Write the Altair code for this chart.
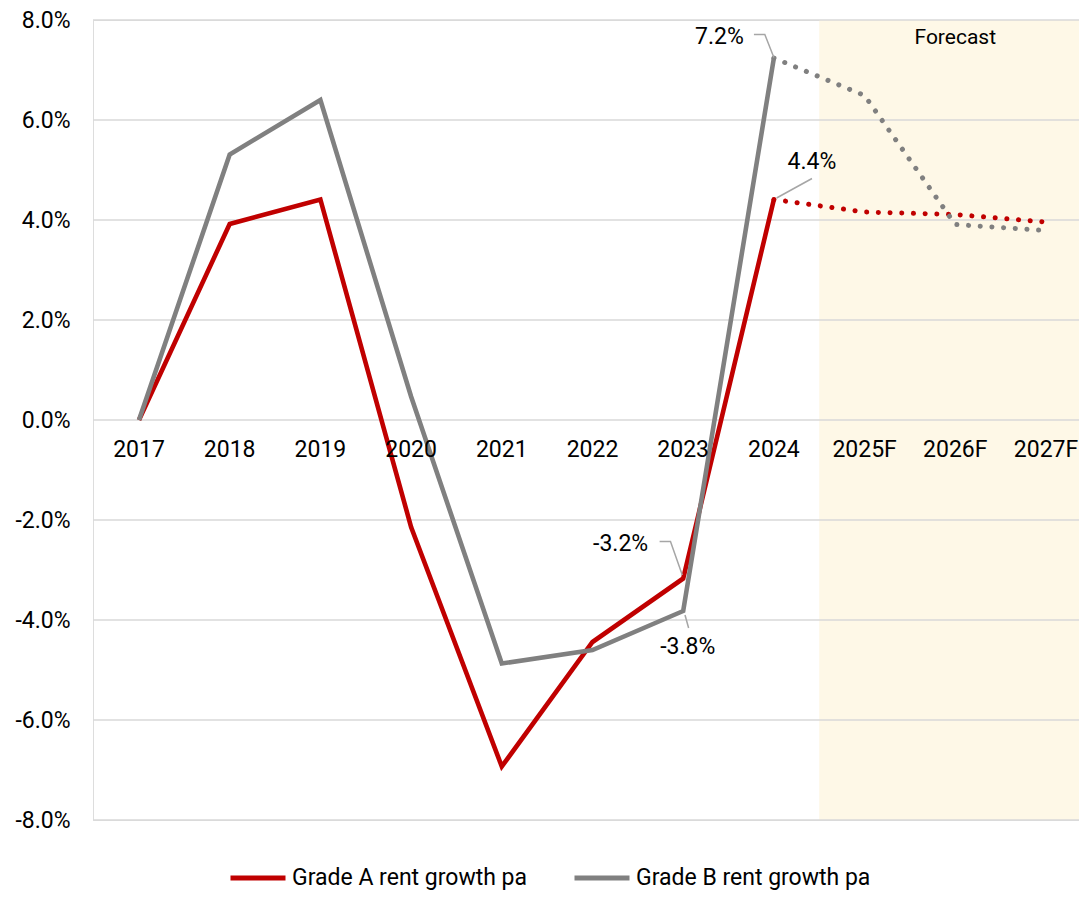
import altair as alt
import pandas as pd

# ---------------- data ----------------
years = ["2017", "2018", "2019", "2020", "2021", "2022", "2023", "2024",
         "2025F", "2026F", "2027F"]
series_names = ["Grade A rent growth pa", "Grade B rent growth pa"]
series_colors = ["#C00000", "#808080"]

# actual values 2017..2024 (%)
grade_a_actual = [0.0, 3.92, 4.41, -2.14, -6.93, -4.44, -3.17, 4.41]
grade_b_actual = [0.0, 5.31, 6.40, 0.47, -4.87, -4.60, -3.82, 7.24]
# forecast values 2024..2027F (%)
grade_a_forecast = [4.41, 4.16, 4.11, 3.96]
grade_b_forecast = [7.24, 6.49, 3.91, 3.79]

y_ticks = [-8, -6, -4, -2, 0, 2, 4, 6, 8]

# shaded forecast band (category index units)
forecast_band_start = 7.5
forecast_band_end = 10.5
forecast_title = "Forecast"
forecast_title_x = 9.0
forecast_title_y = 7.65

# data labels (text, anchor in data units)
label_values = [grade_b_actual[7], grade_a_actual[7], grade_a_actual[6], grade_b_actual[6]]
label_x = [6.40, 7.42, 5.31, 6.05]
label_y = [7.67, 5.17, -2.47, -4.54]

# leader lines (polyline per label)
leader_id = [0, 0, 0, 1, 1, 2, 2, 2, 3, 3]
leader_seq = [0, 1, 2, 0, 1, 0, 1, 2, 0, 1]
leader_x = [6.78, 6.90, 7.00, 7.42, 7.03, 5.74, 5.86, 5.99, 6.02, 6.06]
leader_y = [7.71, 7.71, 7.25, 4.83, 4.44, -2.43, -2.43, -3.10, -3.90, -4.16]

# ---------------- tables ----------------
actual_rows = []
for name, vals in zip(series_names, [grade_a_actual, grade_b_actual]):
    for i, v in enumerate(vals):
        actual_rows.append({"series": name, "i": i, "value": v})
actual_df = pd.DataFrame(actual_rows)

start = len(grade_a_actual) - 1
fc_rows = []
for name, col, vals in zip(series_names, series_colors, [grade_a_forecast, grade_b_forecast]):
    for k, v in enumerate(vals):
        fc_rows.append({"series": name, "color": col, "i": start + k, "value": v})
forecast_df = pd.DataFrame(fc_rows)

xlab_df = pd.DataFrame({"i": list(range(len(years))), "label": years, "y": [0] * len(years)})
grid_df = pd.DataFrame({"y": y_ticks})
band_df = pd.DataFrame({"x": [forecast_band_start], "x2": [forecast_band_end],
                        "y": [y_ticks[0]], "y2": [y_ticks[-1]]})
labels_df = pd.DataFrame({"x": label_x, "y": label_y,
                          "text": [f"{v:.1f}%" for v in label_values]})
leader_df = pd.DataFrame({"id": leader_id, "seq": leader_seq, "x": leader_x, "y": leader_y})
ftitle_df = pd.DataFrame({"x": [forecast_title_x], "y": [forecast_title_y], "text": [forecast_title]})

# ---------------- scales ----------------
FONT = "Roboto"
x_scale = alt.Scale(domain=[-0.507, 10.364], nice=False, zero=False)
y_scale = alt.Scale(domain=[y_ticks[0], y_ticks[-1]], nice=False, zero=False)

X = lambda f: alt.X(f, type="quantitative", scale=x_scale, axis=None)

band = alt.Chart(band_df).mark_rect(color="#FEF8E7", clip=True).encode(
    x=X("x"), x2="x2",
    y=alt.Y("y:Q", scale=y_scale,
            axis=alt.Axis(values=y_ticks, grid=False, domain=False, ticks=False,
                          labelPadding=23, labelFontSize=23, labelFont=FONT,
                          labelColor="#000000", title=None,
                          labelExpr="(datum.value < 0 ? '-' : '') + format(abs(datum.value), '.1f') + '%'")),
    y2="y2",
)

grid = alt.Chart(grid_df).mark_rule(color="#D9D9D9", strokeWidth=1.5).encode(
    y=alt.Y("y:Q", scale=y_scale)
)

actual = alt.Chart(actual_df).mark_line(strokeWidth=4.6, strokeJoin="miter").encode(
    x=X("i"),
    y=alt.Y("value:Q", scale=y_scale),
    color=alt.Color("series:N",
                    scale=alt.Scale(domain=series_names, range=series_colors),
                    legend=alt.Legend(orient="none", legendX=135, legendY=828,
                                      direction="horizontal", title=None,
                                      symbolType="stroke", symbolSize=3025,
                                      symbolStrokeWidth=5, labelFontSize=23,
                                      labelFont=FONT, labelColor="#000000",
                                      labelOffset=4, columnPadding=36,
                                      labelLimit=400)),
    order="i:Q",
)

forecast = alt.Chart(forecast_df).mark_line(
    strokeWidth=5, strokeDash=[0.1, 11.6], strokeCap="round"
).encode(
    x=X("i"),
    y=alt.Y("value:Q", scale=y_scale),
    color=alt.Color("color:N", scale=None),
    detail="series:N",
    order="i:Q",
)

xlabels = alt.Chart(xlab_df).mark_text(
    fontSize=23, font=FONT, color="#000000", baseline="middle", align="center", dy=30
).encode(x=X("i"), y=alt.Y("y:Q", scale=y_scale), text="label:N")

leaders = alt.Chart(leader_df).mark_line(color="#A6A6A6", strokeWidth=1.5).encode(
    x=X("x"), y=alt.Y("y:Q", scale=y_scale), detail="id:N", order="seq:Q"
)

labels = alt.Chart(labels_df).mark_text(
    fontSize=23, font=FONT, color="#000000", baseline="middle", align="center"
).encode(x=X("x"), y=alt.Y("y:Q", scale=y_scale), text="text:N")

ftitle = alt.Chart(ftitle_df).mark_text(
    fontSize=21, font=FONT, color="#000000", baseline="middle", align="center"
).encode(x=X("x"), y=alt.Y("y:Q", scale=y_scale), text="text:N")

chart = alt.layer(band, grid, actual, forecast, leaders, xlabels, labels, ftitle).properties(
    width=986, height=800,
    autosize=alt.AutoSizeParams(type="none"),
    padding={"left": 85, "top": 12, "right": 0, "bottom": 70},
).configure_view(stroke=None).configure(font=FONT)

chart.save("out.html", embed_options={"renderer": "svg", "actions": False})
